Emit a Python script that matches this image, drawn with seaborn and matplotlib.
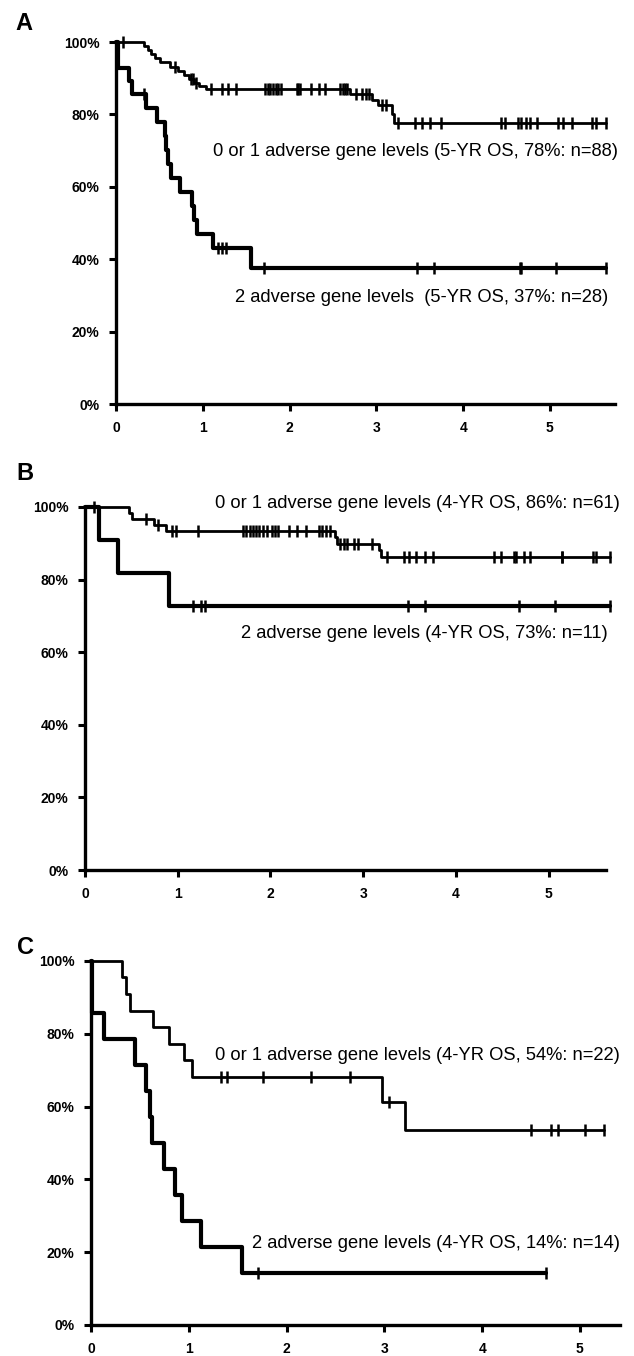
import numpy as np
import pandas as pd
import seaborn as sns
import matplotlib.pyplot as plt

# ---- data (years, % surviving) ----
# Panel A
a_low_t = [0, 0.32, 0.37, 0.40, 0.45, 0.51, 0.62, 0.72, 0.78, 0.84, 0.90, 0.96, 1.04, 2.70, 2.95, 3.02, 3.18, 3.20]
a_low_s = [100, 98.9, 97.8, 96.6, 95.5, 94.4, 93.2, 92.1, 91.0, 89.9, 88.8, 87.8, 87.1, 85.5, 84.1, 82.7, 80.2, 77.7]
a_low_cens = [0.08, 0.68, 0.86, 0.89, 0.92, 1.10, 1.22, 1.29, 1.38, 1.72, 1.75, 1.78, 1.81, 1.84, 1.87,
              1.90, 2.08, 2.10, 2.12, 2.25, 2.34, 2.41, 2.58, 2.61, 2.64, 2.66, 2.76, 2.84, 2.88, 2.92,
              3.06, 3.11, 3.25, 3.44, 3.53, 3.62, 3.74, 4.44, 4.48, 4.63, 4.67, 4.72, 4.77, 4.85,
              5.09, 5.15, 5.25, 5.49, 5.53, 5.65]
a_low_end = 5.65
a_high_t = [0, 0.02, 0.15, 0.18, 0.35, 0.47, 0.56, 0.58, 0.60, 0.63, 0.74, 0.87, 0.90, 0.93, 1.12, 1.55]
a_high_s = [100, 92.9, 89.3, 85.7, 81.9, 78.0, 74.1, 70.2, 66.3, 62.4, 58.5, 54.7, 50.8, 46.9, 43.0, 37.6]
a_high_cens = [0.32, 1.17, 1.22, 1.27, 1.70, 3.47, 3.66, 4.65, 4.67, 5.07, 5.65]
a_high_end = 5.65

# Panel B
b_low_t = [0, 0.48, 0.51, 0.74, 0.87, 2.70, 2.72, 3.17, 3.19]
b_low_s = [100, 98.4, 96.7, 95.1, 93.4, 91.7, 89.9, 88.1, 86.3]
b_low_cens = [0.10, 0.66, 0.79, 0.94, 0.98, 1.22, 1.70, 1.74, 1.78, 1.81, 1.84, 1.88, 1.92, 1.96,
              2.02, 2.05, 2.08, 2.20, 2.29, 2.38, 2.52, 2.56, 2.60, 2.64, 2.75, 2.79, 2.83, 2.90,
              2.94, 3.10, 3.26, 3.44, 3.49, 3.57, 3.67, 3.75, 4.41, 4.49, 4.63, 4.65, 4.74, 4.80,
              5.14, 5.15, 5.48, 5.51, 5.66]
b_low_end = 5.66
b_high_t = [0, 0.15, 0.36, 0.91]
b_high_s = [100, 90.9, 81.8, 72.7]
b_high_cens = [1.17, 1.25, 1.29, 3.48, 3.67, 4.68, 5.07, 5.66]
b_high_end = 5.66

# Panel C
c_low_t = [0, 0.32, 0.36, 0.40, 0.63, 0.80, 0.95, 1.03, 2.98, 3.21]
c_low_s = [100, 95.5, 90.9, 86.4, 81.8, 77.3, 72.7, 68.2, 61.4, 53.7]
c_low_cens = [1.33, 1.39, 1.76, 2.25, 2.65, 3.05, 4.50, 4.70, 4.78, 5.05, 5.25]
c_low_end = 5.25
c_high_t = [0, 0.01, 0.13, 0.45, 0.56, 0.60, 0.62, 0.75, 0.86, 0.93, 1.12, 1.54]
c_high_s = [100, 85.7, 78.6, 71.4, 64.3, 57.1, 50.0, 42.9, 35.7, 28.6, 21.4, 14.3]
c_high_cens = [1.71, 4.65]
c_high_end = 4.65

y_ticks = [0, 20, 40, 60, 80, 100]
y_labels = ["0%", "20%", "40%", "60%", "80%", "100%"]
x_ticks = [0, 1, 2, 3, 4, 5]

sns.set_style("ticks", {'axes.edgecolor': 'black', 'xtick.color': 'black', 'ytick.color': 'black',
                        'text.color': 'black'})
plt.rcParams['font.family'] = ['Liberation Sans', 'DejaVu Sans']

W, H = 634, 1356
fig = plt.figure(figsize=(W / 100, H / 100), dpi=100)


def px_axes(left, right, top, bottom):
    # pixel box -> figure fraction
    return [left / W, 1 - bottom / H, (right - left) / W, (bottom - top) / H]


def km(ax, t, s, cens, end, lw):
    df = pd.DataFrame({'t': list(t) + [end], 's': list(s) + [s[-1]]})
    sns.lineplot(data=df, x='t', y='s', drawstyle='steps-post', estimator=None, sort=False,
                 color='black', lw=lw, ax=ax, clip_on=False)
    idx = np.searchsorted(t, cens, side='right') - 1
    cy = np.array(s)[idx]
    sns.scatterplot(x=cens, y=cy, marker='|', s=70, linewidth=1.8, color='black',
                    ax=ax, clip_on=False, zorder=3)


def style(ax, xmax):
    ax.set_xlim(0, xmax)
    ax.set_ylim(0, 100)
    ax.set_yticks(y_ticks)
    ax.set_yticklabels(y_labels)
    ax.set_xticks(x_ticks)
    ax.set_xlabel("")
    ax.set_ylabel("")
    sns.despine(ax=ax)
    for sp in ['left', 'bottom']:
        ax.spines[sp].set_linewidth(2.4)
        ax.spines[sp].set_color('black')
    ax.tick_params(width=2.2, length=5, pad=7, labelsize=10, colors='black')
    for lab in ax.get_xticklabels() + ax.get_yticklabels():
        lab.set_fontweight('bold')


panels = [
    dict(box=(116, 615, 42, 404), xmax=5.75, letter="A", lxy=(15, 24),
         curves=[(a_low_t, a_low_s, a_low_cens, a_low_end, 2.0),
                 (a_high_t, a_high_s, a_high_cens, a_high_end, 3.0)],
         texts=[("0 or 1 adverse gene levels (5-YR OS, 78%: n=88)", 618, 152),
                ("2 adverse gene levels  (5-YR OS, 37%: n=28)", 608, 298)]),
    dict(box=(85, 606, 507, 870), xmax=5.62, letter="B", lxy=(16, 474),
         curves=[(b_low_t, b_low_s, b_low_cens, b_low_end, 2.0),
                 (b_high_t, b_high_s, b_high_cens, b_high_end, 3.0)],
         texts=[("0 or 1 adverse gene levels (4-YR OS, 86%: n=61)", 620, 503),
                ("2 adverse gene levels (4-YR OS, 73%: n=11)", 608, 633)]),
    dict(box=(91, 620, 961, 1325), xmax=5.41, letter="C", lxy=(17, 948),
         curves=[(c_low_t, c_low_s, c_low_cens, c_low_end, 2.0),
                 (c_high_t, c_high_s, c_high_cens, c_high_end, 3.0)],
         texts=[("0 or 1 adverse gene levels (4-YR OS, 54%: n=22)", 620, 1055),
                ("2 adverse gene levels (4-YR OS, 14%: n=14)", 620, 1243)]),
]

for p in panels:
    ax = fig.add_axes(px_axes(*p['box']))
    for t, s, cens, end, lw in p['curves']:
        km(ax, t, s, cens, end, lw)
    style(ax, p['xmax'])
    for txt, x, y in p['texts']:
        fig.text(x / W, 1 - y / H, txt, ha='right', va='center', fontsize=13.2, color='black')
    lx, ly = p['lxy']
    fig.text(lx / W, 1 - ly / H, p['letter'], ha='left', va='center', fontsize=17,
             fontweight='bold', color='black')

fig.savefig("out.png", dpi=100)
